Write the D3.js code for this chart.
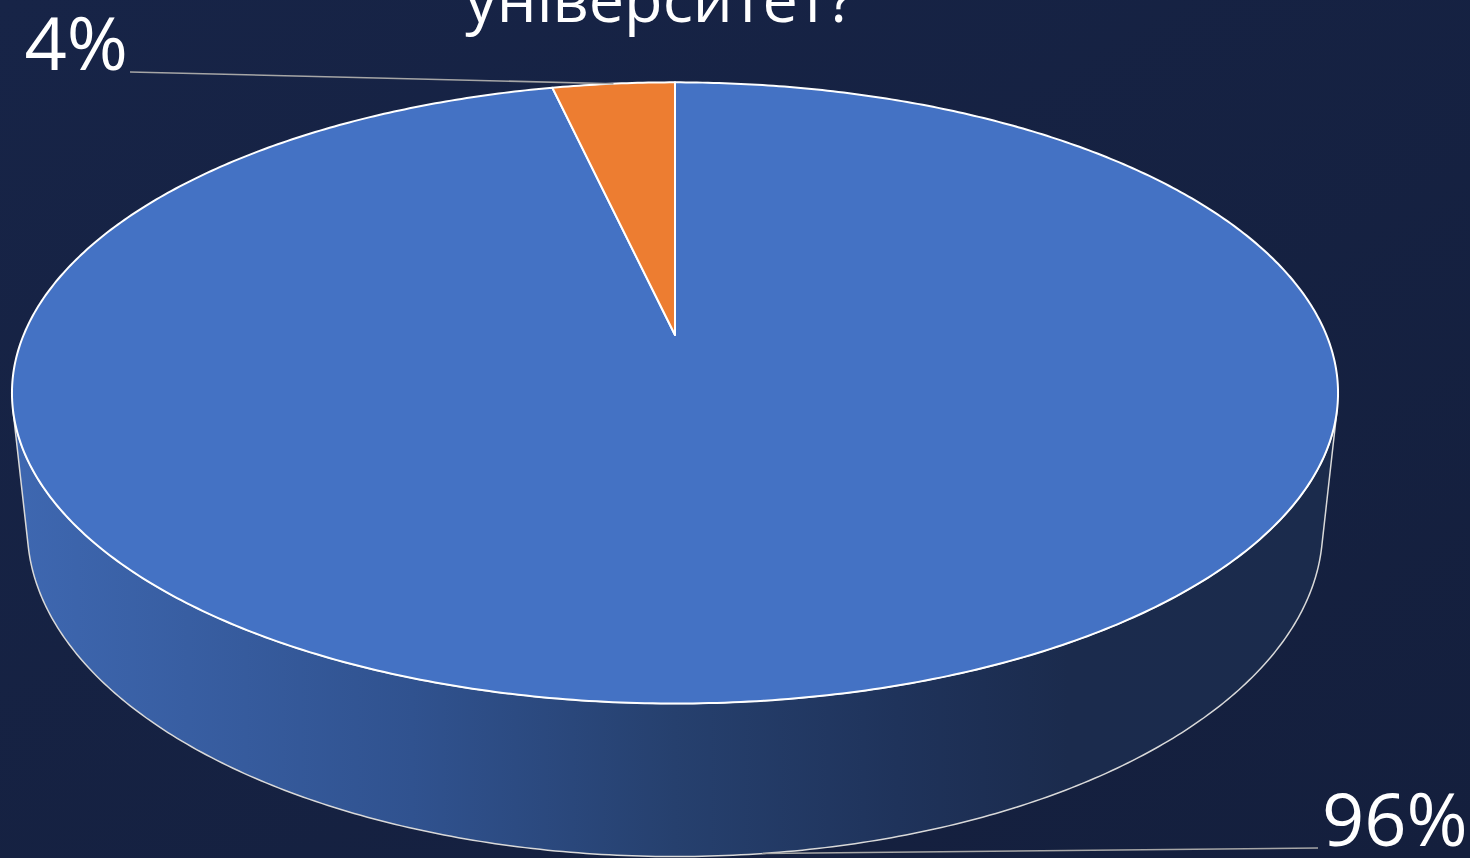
<!DOCTYPE html>
<html>
<head>
<meta charset="utf-8">
<script src="https://cdn.jsdelivr.net/npm/d3@7"></script>
<style>
  html, body { margin: 0; padding: 0; background: #16223f; overflow: hidden; }
  svg { display: block; }
</style>
</head>
<body>
<script>
// survey answers (27 of 28 -> 96%, 1 of 28 -> 4%)
var categories = ["Так", "Ні"];
var values = [27, 1];
var colors = ["#4472c4", "#ed7d31"];
var titleText = "університет?";

var width = 1470,
  height = 858;

// 3d view of the pie
var view = {
  cx: 675, cy: 335,   // where the pie centre lands on screen
  focal: 3100,
  dist: 4.759,
  tilt: 27.4 * Math.PI / 180,
  depth: 0.2358
};

// where Excel put the data labels
var labelPos = [
  { x: 1322, y: 847, anchor: "start", rim: "bottom" },
  { x: 128, y: 71, anchor: "end", rim: "top" }
];

var svg = d3.select("body").append("svg")
  .attr("width", width)
  .attr("height", height);

var defs = svg.append("defs");

var bg = defs.append("linearGradient")
  .attr("id", "bgGrad")
  .attr("x1", "0%").attr("y1", "0%")
  .attr("x2", "100%").attr("y2", "100%");
bg.append("stop").attr("offset", "0%").attr("stop-color", "#172447");
bg.append("stop").attr("offset", "100%").attr("stop-color", "#141f3d");

var wallGrad = defs.append("linearGradient")
  .attr("id", "wallGrad")
  .attr("gradientUnits", "userSpaceOnUse")
  .attr("x1", 20).attr("y1", 0)
  .attr("x2", 1330).attr("y2", 0);
[[0, "#3e67b0"], [0.3, "#30528f"], [0.5, "#26406e"], [0.67, "#1f335b"], [0.8, "#1b2b4d"], [1, "#1b2b4c"]]
  .forEach(function (s) {
    wallGrad.append("stop").attr("offset", s[0]).attr("stop-color", s[1]);
  });

svg.append("rect")
  .attr("width", width)
  .attr("height", height)
  .attr("fill", "url(#bgGrad)");

// angle: 0 at 12 o'clock, clockwise. z: 0 top face, negative = down
function proj(angle, r, z) {
  var u = r * Math.sin(angle),
    v = -r * Math.cos(angle);
  var ca = Math.cos(view.tilt), sa = Math.sin(view.tilt);
  var w = view.dist - v * ca - z * sa;
  return [
    view.cx + view.focal * u / w,
    view.cy + view.focal * (v * sa - z * ca) / w
  ];
}

function arcPoints(a0, a1, z) {
  var n = Math.max(2, Math.ceil(Math.abs(a1 - a0) / 0.01));
  return d3.range(n + 1).map(function (i) {
    return proj(a0 + (a1 - a0) * i / n, 1, z);
  });
}

var pie = d3.pie().sort(null).value(function (d) { return d; });
var arcs = pie(values);
var total = d3.sum(values);

var line = d3.line();
var zBot = -view.depth;

// visible front part of the side wall (tangent rays from the camera)
var camGround = view.dist * Math.cos(view.tilt);
var aTan = Math.acos(1 / camGround);
var wallFrom = Math.PI - aTan,
  wallTo = Math.PI + aTan;

arcs.forEach(function (d, i) {
  var a0 = Math.max(d.startAngle, wallFrom),
    a1 = Math.min(d.endAngle, wallTo);
  if (a1 <= a0) return;
  var pts = arcPoints(a0, a1, 0).concat(arcPoints(a1, a0, zBot));
  svg.append("path")
    .attr("d", line(pts) + "Z")
    .attr("fill", i === 0 ? "url(#wallGrad)" : d3.color(colors[i]).darker(1.2))
    .attr("stroke", "#d9d9d9")
    .attr("stroke-width", 1.5)
    .attr("stroke-linejoin", "round");
});

// top face slices
svg.selectAll(".slice")
  .data(arcs)
  .enter()
  .append("path")
  .attr("class", "slice")
  .attr("d", function (d) {
    var pts = [proj(0, 0, 0)].concat(arcPoints(d.startAngle, d.endAngle, 0));
    return line(pts) + "Z";
  })
  .attr("fill", function (d, i) { return colors[i]; })
  .attr("stroke", "#ffffff")
  .attr("stroke-width", 2)
  .attr("stroke-linejoin", "round");

// leader lines + labels
arcs.forEach(function (d, i) {
  var mid = (d.startAngle + d.endAngle) / 2;
  var lp = labelPos[i];
  var p = proj(mid, 1, lp.rim === "top" ? 0 : zBot);
  var lx = lp.anchor === "start" ? lp.x - 4 : lp.x + 2;
  svg.append("line")
    .attr("x1", lx).attr("y1", lp.y + 1)
    .attr("x2", p[0]).attr("y2", p[1])
    .attr("stroke", "#a6a6a6")
    .attr("stroke-width", 1.6);
  svg.append("text")
    .attr("x", lp.x)
    .attr("y", lp.y - 1)
    .attr("text-anchor", lp.anchor)
    .attr("fill", "#ffffff")
    .style("font-family", "'Open Sans', 'Noto Sans', sans-serif")
    .style("font-size", "74px")
    .text(Math.round(d.value / total * 100) + "%");
});

// chart title, mostly above the visible area
svg.append("text")
  .attr("x", 660)
  .attr("y", 22)
  .attr("text-anchor", "middle")
  .attr("fill", "#ffffff")
  .style("font-family", "'Open Sans', 'Noto Sans', sans-serif")
  .style("font-size", "63px")
  .text(titleText);
</script>
</body>
</html>
